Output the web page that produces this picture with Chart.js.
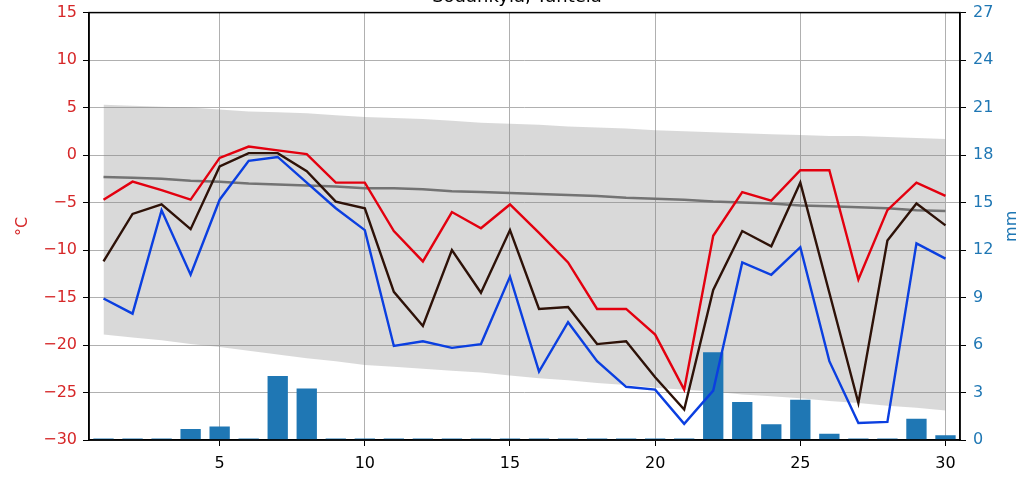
<!DOCTYPE html>
<html>
<head>
<meta charset="utf-8">
<script src="https://cdn.jsdelivr.net/npm/chart.js@4"></script>
<style>
  html, body { margin: 0; padding: 0; background: #fff; }
  #wrap { position: relative; width: 1034px; height: 484px; overflow: hidden; }
  #chart { position: absolute; left: 0; top: -13px; }
</style>
</head>
<body>
<div id="wrap"><canvas id="chart" width="1034" height="497"></canvas></div>
<script>
// päivät 1..30
const days = [1,2,3,4,5,6,7,8,9,10,11,12,13,14,15,16,17,18,19,20,21,22,23,24,25,26,27,28,29,30];

// lämpötilat (°C)
const tMax  = [-4.7,-2.8,-3.7,-4.7,-0.3,0.9,0.5,0.1,-2.9,-2.9,-8.0,-11.2,-6.0,-7.7,-5.2,-8.2,-11.3,-16.2,-16.2,-18.9,-24.7,-8.5,-3.9,-4.8,-1.6,-1.6,-13.1,-5.8,-2.9,-4.3];
const tMean = [-11.2,-6.2,-5.2,-7.8,-1.2,0.2,0.2,-1.7,-4.9,-5.6,-14.4,-18.0,-10.0,-14.5,-7.9,-16.2,-16.0,-19.9,-19.6,-23.4,-26.8,-14.2,-8.0,-9.6,-2.9,-14.5,-26.1,-9.0,-5.1,-7.4];
const tMin  = [-15.1,-16.7,-5.8,-12.6,-4.7,-0.6,-0.2,-2.9,-5.6,-7.9,-20.1,-19.6,-20.3,-19.9,-12.8,-22.8,-17.6,-21.7,-24.4,-24.7,-28.3,-24.8,-11.3,-12.6,-9.7,-21.7,-28.2,-28.1,-9.3,-10.9];

// pitkän ajan keskiarvo ja vaihteluväli
const climMean = [-2.3,-2.4,-2.5,-2.7,-2.8,-3.0,-3.1,-3.2,-3.3,-3.5,-3.5,-3.6,-3.8,-3.9,-4.0,-4.1,-4.2,-4.3,-4.5,-4.6,-4.7,-4.9,-5.0,-5.1,-5.3,-5.4,-5.5,-5.6,-5.8,-5.9];
const climHigh = [5.3,5.2,5.1,5.0,4.8,4.6,4.5,4.4,4.2,4.0,3.9,3.8,3.6,3.4,3.3,3.2,3.0,2.9,2.8,2.6,2.5,2.4,2.3,2.2,2.1,2.0,2.0,1.9,1.8,1.7];
const climLow  = [-18.9,-19.2,-19.5,-19.9,-20.2,-20.6,-21.0,-21.4,-21.7,-22.1,-22.3,-22.5,-22.7,-22.9,-23.2,-23.5,-23.7,-24.0,-24.2,-24.5,-24.7,-24.9,-25.2,-25.4,-25.6,-25.9,-26.1,-26.4,-26.6,-26.9];

// sademäärä (mm)
const precip = [0.1,0.1,0.1,0.7,0.85,0.1,4.05,3.25,0.1,0.1,0.1,0.1,0.1,0.1,0.1,0.1,0.1,0.1,0.1,0.1,0.1,5.55,2.4,1.0,2.55,0.4,0.1,0.1,1.35,0.3];

const xTicks = [5,10,15,20,25,30];

const pts = arr => days.map((d, i) => ({x: d, y: arr[i]}));
const font = {family: 'DejaVu Sans', size: 16};

// kehys ja oikean akselin otsikko
const framePlugin = {
    id: 'frame',
    afterDraw(chart) {
        const a = chart.chartArea, ctx = chart.ctx;
        ctx.save();
        ctx.strokeStyle = '#000';
        ctx.lineWidth = 1.5;
        ctx.strokeRect(a.left, a.top, a.right - a.left, a.bottom - a.top);
        ctx.translate(1012, (a.top + a.bottom) / 2);
        ctx.rotate(-Math.PI / 2);
        ctx.fillStyle = '#1f77b4';
        ctx.font = '16px "DejaVu Sans"';
        ctx.textAlign = 'center';
        ctx.textBaseline = 'middle';
        ctx.fillText('mm', 0, 0);
        ctx.restore();
    }
};

const lineDs = (data, color, width, order) => ({
    type: 'line', data: pts(data), yAxisID: 'y', borderColor: color,
    borderWidth: width, pointRadius: 0, tension: 0, fill: false, order: order
});

new Chart(document.getElementById('chart'), {
    type: 'bar',
    data: {
        datasets: [
            {type: 'line', data: pts(climHigh), yAxisID: 'y', borderWidth: 0, pointRadius: 0,
             fill: '+1', backgroundColor: 'rgba(128,128,128,0.3)', order: 6},
            {type: 'line', data: pts(climLow), yAxisID: 'y', borderWidth: 0, pointRadius: 0,
             fill: false, order: 6},
            lineDs(climMean, '#737373', 2.5, 5),
            {type: 'bar', data: pts(precip), yAxisID: 'y2', backgroundColor: '#1f77b4',
             barPercentage: 0.7, categoryPercentage: 1, order: 4},
            lineDs(tMin, '#0b3fe0', 2.4, 3),
            lineDs(tMean, '#2e1208', 2.4, 2),
            lineDs(tMax, '#e3000f', 2.4, 1)
        ]
    },
    options: {
        responsive: false,
        animation: false,
        layout: {padding: 0},
        plugins: {
            legend: {display: false},
            tooltip: {enabled: false},
            title: {
                display: true,
                text: 'Sodankylä, Tähtelä',
                color: '#000',
                font: {family: 'DejaVu Sans', size: 18, weight: 'normal'},
                padding: {top: 0, bottom: 4}
            }
        },
        scales: {
            x: {
                type: 'linear', min: 0.5, max: 30.5, offset: false,
                afterBuildTicks: s => { s.ticks = xTicks.map(v => ({value: v})); },
                afterFit: s => { s.height = 44; },
                ticks: {color: '#000', font: font, padding: 8},
                grid: {offset: false, color: '#b0b0b0', lineWidth: 1, tickColor: '#000', tickLength: 6},
                border: {color: '#000', width: 1.5}
            },
            y: {
                position: 'left', min: -30, max: 15,
                afterFit: s => { s.width = 89; },
                ticks: {stepSize: 5, color: '#d62728', font: font, padding: 6,
                        callback: v => String(v).replace('-', '\u2212')},
                grid: {color: '#b0b0b0', lineWidth: 1, tickColor: '#000', tickLength: 6},
                border: {color: '#000', width: 1.5},
                title: {display: true, text: '°C', color: '#d62728', font: font, padding: {top: 13, bottom: 0}}
            },
            y2: {
                position: 'right', min: 0, max: 27,
                afterFit: s => { s.width = 74; },
                ticks: {stepSize: 3, color: '#1f77b4', font: font, padding: 7},
                grid: {drawOnChartArea: false, tickColor: '#000', tickLength: 6},
                border: {color: '#000', width: 1.5}
            }
        }
    },
    plugins: [framePlugin]
});
</script>
</body>
</html>
